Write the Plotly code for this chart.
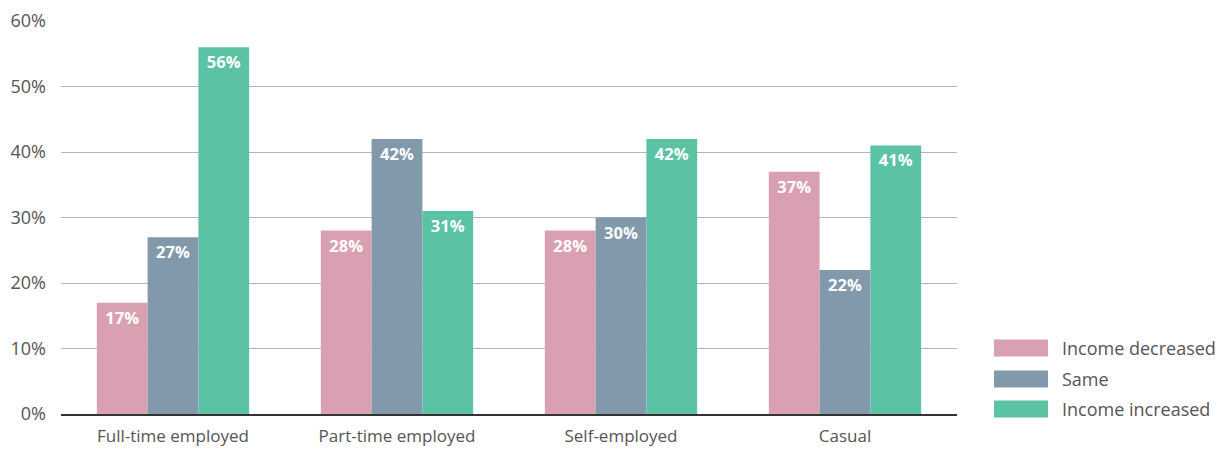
import plotly.graph_objects as go

categories = ["Full-time employed", "Part-time employed", "Self-employed", "Casual"]
series_names = ["Income decreased", "Same", "Income increased"]
income_decreased = [17, 28, 28, 37]
same = [27, 42, 30, 22]
income_increased = [56, 31, 42, 41]
colors = ["#D9A0B2", "#8298AB", "#5BC3A4"]
y_ticks = [0, 10, 20, 30, 40, 50, 60]
y_tick_labels = [f"{v}%" for v in y_ticks]

FONT = "Open Sans"
GREY = "#555555"

fig = go.Figure()
for name, vals, col in zip(series_names, [income_decreased, same, income_increased], colors):
    fig.add_trace(go.Bar(
        x=categories, y=vals, name=name, marker=dict(color=col, line=dict(width=0)),
        text=[f"{v}%" for v in vals], texttemplate="%{text}",
        textposition="inside", insidetextanchor="end",
        textangle=0, constraintext="none",
        textfont=dict(family=FONT, size=16.5, color="white", weight="bold"),
        showlegend=False,
    ))

# legend drawn as swatches + labels beside the plot
legend_y = [348, 379, 409]
for name, col, yy in zip(series_names, colors, legend_y):
    fig.add_shape(type="rect", xref="paper", yref="paper",
                  x0=(994 - 61) / 896, x1=(1048 - 61) / 896,
                  y0=(414 - (yy + 8.5)) / 393, y1=(414 - (yy - 8.5)) / 393,
                  fillcolor=col, line=dict(width=0))
    fig.add_annotation(xref="paper", yref="paper", x=(1060 - 61) / 896,
                       y=(414 - yy) / 393, text=name, showarrow=False,
                       xanchor="left", yanchor="middle",
                       font=dict(family=FONT, size=18, color=GREY))

fig.update_layout(
    width=1231, height=449, barmode="group", bargap=0.32, bargroupgap=0,
    margin=dict(l=61, r=274, t=21, b=35),
    plot_bgcolor="white", paper_bgcolor="white",
    font=dict(family=FONT, size=17, color=GREY),
    xaxis=dict(showline=True, linecolor="#333333", linewidth=2, ticks="",
               automargin=False, ticklabelstandoff=6,
               tickfont=dict(size=17, color=GREY)),
    yaxis=dict(range=[0, 60], tickvals=y_ticks, ticktext=y_tick_labels,
               showgrid=True, gridcolor="#B5B5B5", gridwidth=1, zeroline=False,
               automargin=False, ticklabelstandoff=14,
               tickfont=dict(size=18, color=GREY)),
)

fig.write_html("out.html")
